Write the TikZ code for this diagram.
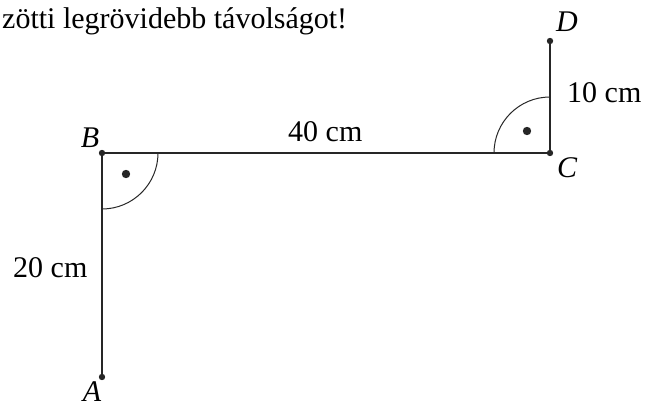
\documentclass[tikz,border=0pt]{standalone}
\usepackage{fontspec}
\setmainfont{Liberation Serif}
\begin{document}
\begin{tikzpicture}[x=1pt,y=1pt,
  lbl/.style={inner sep=0pt,font=\fontsize{30}{34}\selectfont},
  pt/.style={fill=black!85},
  seg/.style={line width=2.9pt,draw=black!85},
  arcline/.style={line width=1pt,draw=black!85}]
\useasboundingbox (0,0) rectangle (656,405);
\coordinate (A) at (102,28);
\coordinate (B) at (102,252);
\coordinate (C) at (550,252);
\coordinate (D) at (550,364);
\draw[seg] (A) -- (B) -- (C) -- (D);
\draw[arcline] (158,252) arc[start angle=0,end angle=-90,radius=56];
\draw[arcline] (494,252) arc[start angle=180,end angle=90,radius=56];
\fill[pt] (A) circle (3.2);
\fill[pt] (B) circle (3.2);
\fill[pt] (C) circle (3.2);
\fill[pt] (D) circle (3.2);
\fill[pt] (126,231) circle (4.2) coordinate (dB);
\fill[pt] (527,274) circle (4.2) coordinate (dC);
\node[lbl,anchor=base] (lA) at (92,4) {\itshape A};
\node[lbl,anchor=base] (lB) at (90,258) {\itshape B};
\node[lbl,anchor=base] (lC) at (567,228) {\itshape C};
\node[lbl,anchor=base] (lD) at (567,373) {\itshape D};
\node[lbl,anchor=base west] (l10) at (567,302) {10 cm};
\node[lbl,anchor=base west] (l20) at (13,128) {20 cm};
\node[lbl,anchor=base west] (l40) at (288,263) {40 cm};
\node[lbl,anchor=base west] (top) at (2,376) {zötti legrövidebb távolságot!};
\end{tikzpicture}
\end{document}
